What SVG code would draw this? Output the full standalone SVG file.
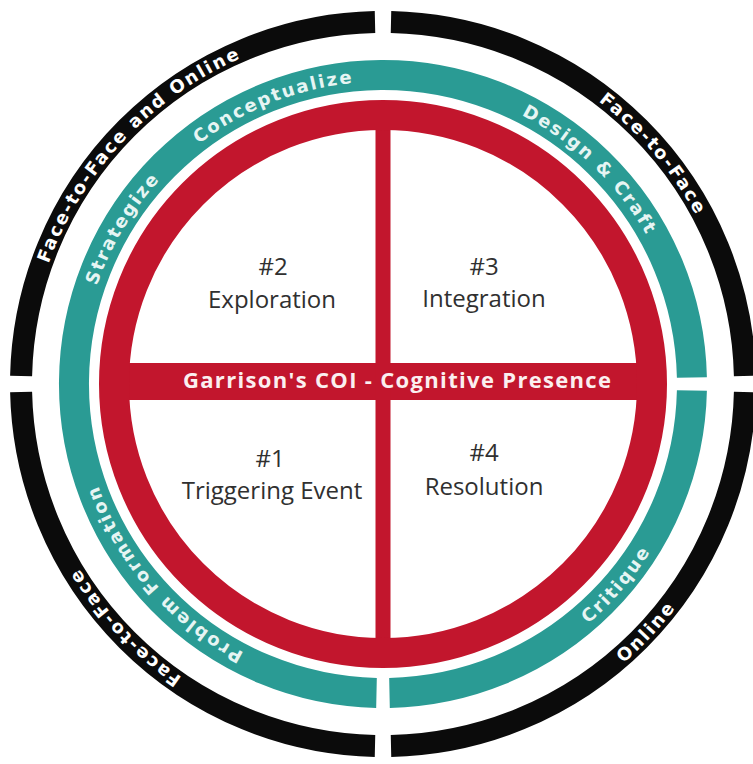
<svg xmlns="http://www.w3.org/2000/svg" width="753" height="764" viewBox="0 0 753 764">
<style>
.blk{fill:none;stroke:#0b0b0b;stroke-width:22}
.teal{fill:none;stroke:#2a9b94;stroke-width:30}
.red{fill:none;stroke:#c2162d;stroke-width:30}
.redf{fill:#c2162d}
.bt{font-family:"DejaVu Sans","Liberation Sans",sans-serif;font-weight:bold;font-size:18px;fill:#ffffff;letter-spacing:2px}
.tt{font-family:"DejaVu Sans","Liberation Sans",sans-serif;font-weight:bold;font-size:18px;fill:#e6f5f3;letter-spacing:2px}
.q{font-family:"Open Sans","Liberation Sans",sans-serif;font-size:24px;fill:#303030;text-anchor:middle}
.title{font-family:"Open Sans","Liberation Sans",sans-serif;font-weight:bold;font-size:22px;fill:#fbeff0;text-anchor:middle}
</style>
<defs>
<path id="p-ftfo" d="M 28.05 364.16 A 355.5 355.5 0 0 1 340.90 31.00"/>
<path id="p-ftf-tr" d="M 502.25 49.10 A 355.5 355.5 0 0 1 732.66 319.82"/>
<path id="p-ftf-bl" d="M 280.84 724.50 A 355.5 355.5 0 0 1 37.03 465.78"/>
<path id="p-online" d="M 519.25 726.38 A 368.5 368.5 0 0 0 732.86 499.71"/>
<path id="p-strat" d="M 82.05 353.43 A 302.5 302.5 0 0 1 212.97 133.81"/>
<path id="p-concept" d="M 163.58 175.77 A 302.5 302.5 0 0 1 401.47 82.07"/>
<path id="p-design" d="M 481.48 97.98 A 302.5 302.5 0 0 1 665.41 275.59"/>
<path id="p-problem" d="M 309.82 677.52 A 302.5 302.5 0 0 1 82.16 415.62"/>
<path id="p-critique" d="M 512.83 671.55 A 315.5 315.5 0 0 0 686.73 469.37"/>
</defs>
<rect width="753" height="764" fill="#ffffff"/>

<g id="outer-ring">
  <path class="blk" d="M 744.9 392 A 362 362 0 0 1 391 745.9"/>
  <path class="blk" d="M 375 745.9 A 362 362 0 0 1 21.1 392"/>
  <path class="blk" d="M 21.1 376 A 362 362 0 0 1 375 22.1"/>
  <path class="blk" d="M 391 22.1 A 362 362 0 0 1 744.9 376"/>
  <text class="bt"><textPath href="#p-ftfo" startOffset="50%" text-anchor="middle">Face-to-Face and Online</textPath></text>
  <text class="bt"><textPath href="#p-ftf-tr" startOffset="50%" text-anchor="middle">Face-to-Face</textPath></text>
  <text class="bt"><textPath href="#p-ftf-bl" startOffset="50%" text-anchor="middle">Face-to-Face</textPath></text>
  <text class="bt"><textPath href="#p-online" startOffset="50%" text-anchor="middle">Online</textPath></text>
</g>

<g id="teal-ring">
  <path class="teal" d="M 376.5 692.9 A 309 309 0 1 1 691.9 377.5"/>
  <path class="teal" d="M 691.9 390.5 A 309 309 0 0 1 389.5 692.9"/>
  <text class="tt"><textPath href="#p-strat" startOffset="50%" text-anchor="middle">Strategize</textPath></text>
  <text class="tt"><textPath href="#p-concept" startOffset="50%" text-anchor="middle">Conceptualize</textPath></text>
  <text class="tt"><textPath href="#p-design" startOffset="50%" text-anchor="middle">Design &amp; Craft</textPath></text>
  <text class="tt"><textPath href="#p-problem" startOffset="50%" text-anchor="middle">Problem Formation</textPath></text>
  <text class="tt"><textPath href="#p-critique" startOffset="50%" text-anchor="middle">Critique</textPath></text>
</g>

<g id="coi-circle">
  <circle cx="383" cy="384" r="269" fill="#ffffff"/>
  <rect class="redf" x="114" y="363" width="538" height="37"/>
  <rect class="redf" x="375.5" y="115" width="15" height="538"/>
  <circle class="red" cx="383" cy="384" r="269"/>
  <text class="title" x="397" y="388" textLength="428">Garrison's COI - Cognitive Presence</text>
</g>

<g id="q2-exploration">
  <text class="q" x="273" y="275">#2</text>
  <text class="q" x="272" y="308">Exploration</text>
</g>
<g id="q3-integration">
  <text class="q" x="484" y="275">#3</text>
  <text class="q" x="484" y="307">Integration</text>
</g>
<g id="q1-triggering">
  <text class="q" x="270" y="467">#1</text>
  <text class="q" x="272" y="499">Triggering Event</text>
</g>
<g id="q4-resolution">
  <text class="q" x="484" y="461">#4</text>
  <text class="q" x="484" y="495">Resolution</text>
</g>
</svg>
